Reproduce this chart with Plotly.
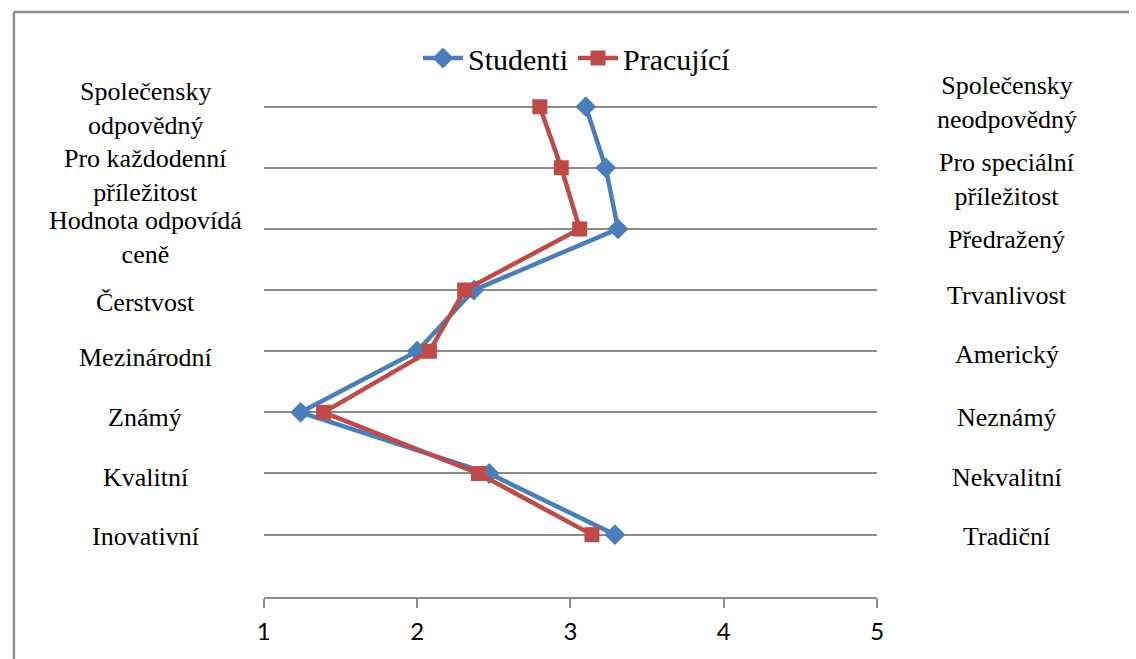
import plotly.graph_objects as go

# Semantic differential: each row pairs a left and right attribute, scored 1–5
left_labels = ["Společensky<br>odpovědný", "Pro každodenní<br>příležitost", "Hodnota odpovídá<br>ceně",
               "Čerstvost", "Mezinárodní", "Známý", "Kvalitní", "Inovativní"]
right_labels = ["Společensky<br>neodpovědný", "Pro speciální<br>příležitost", "Předražený",
                "Trvanlivost", "Americký", "Neznámý", "Nekvalitní", "Tradiční"]
studenti = [3.10, 3.23, 3.31, 2.37, 2.00, 1.24, 2.47, 3.29]
pracujici = [2.80, 2.94, 3.06, 2.31, 2.08, 1.39, 2.40, 3.14]
x_ticks = [1, 2, 3, 4, 5]

W, H = 1136, 659
rows = list(range(len(left_labels), 0, -1))  # top row gets the highest position

BLUE = "#4A7EBB"
RED = "#BE4B48"
GRID = "#8C8C8C"
SERIF = "Liberation Serif"

fig = go.Figure()
fig.add_trace(go.Scatter(
    x=studenti, y=rows, name="Studenti", mode="lines+markers",
    line=dict(color=BLUE, width=4.5),
    marker=dict(symbol="diamond", size=16, color=BLUE),
))
fig.add_trace(go.Scatter(
    x=pracujici, y=rows, name="Pracující", mode="lines+markers",
    line=dict(color=RED, width=4.5),
    marker=dict(symbol="square", size=15, color=RED),
))

# Plot area in pixel terms, converted to paper fractions (margins are zero)
x0_px, x1_px = 260, 881
axis_px = 597
row_px = 61.14
y_lo, y_hi = -0.02, 9.0
top_px = axis_px - (y_hi - y_lo) * row_px

fig.update_layout(
    width=W, height=H,
    margin=dict(l=0, r=0, t=0, b=0),
    paper_bgcolor="white", plot_bgcolor="white",
    font=dict(family=SERIF, color="black"),
    showlegend=True,
    legend=dict(
        orientation="h", x=0.508, y=1 - 58 / H, xanchor="center", yanchor="middle",
        font=dict(family=SERIF, size=30, color="black"),
        itemwidth=40, bgcolor="rgba(0,0,0,0)",
    ),
    xaxis=dict(
        domain=[x0_px / W, x1_px / W], range=[1, 5],
        tickvals=x_ticks, ticktext=[str(v) for v in x_ticks],
        showgrid=False, zeroline=False,
        showline=True, linecolor=GRID, linewidth=1.5,
        ticks="outside", ticklen=9, tickcolor=GRID, tickwidth=1.5,
        ticklabelstandoff=3,
        tickfont=dict(family="Lato", size=24, color="black"),
        fixedrange=True,
    ),
    yaxis=dict(
        domain=[1 - axis_px / H, 1 - top_px / H], range=[y_lo, y_hi],
        tickvals=rows, showticklabels=False,
        showgrid=True, gridcolor=GRID, gridwidth=1.5,
        zeroline=False, showline=False, fixedrange=True,
    ),
)

# Attribute labels on both sides of each row
left_shift = [-2, -8, -9, -12, -6, -5, -4, -2]
right_shift = [4, -12, -11, -5, -3, -5, -4, -2]
for r, txt, dy in zip(rows, left_labels, left_shift):
    fig.add_annotation(
        x=140 / W, xref="paper", y=r, yref="y", yshift=dy,
        text=txt, showarrow=False, xanchor="center", yanchor="middle",
        font=dict(family=SERIF, size=26, color="black"),
    )
for r, txt, dy in zip(rows, right_labels, right_shift):
    fig.add_annotation(
        x=1012 / W, xref="paper", y=r, yref="y", yshift=dy,
        text=txt, showarrow=False, xanchor="center", yanchor="middle",
        font=dict(family=SERIF, size=26, color="black"),
    )

# Chart frame (left and top edges visible)
fig.add_shape(type="line", xref="paper", yref="paper",
              x0=7 / W, x1=7 / W, y0=0, y1=1 - 12 / H,
              line=dict(color="#8C8C8C", width=2.5))
fig.add_shape(type="line", xref="paper", yref="paper",
              x0=7 / W, x1=1, y0=1 - 12 / H, y1=1 - 12 / H,
              line=dict(color="#8C8C8C", width=2.5))

fig.write_html("out.html", config={"displayModeBar": False})
